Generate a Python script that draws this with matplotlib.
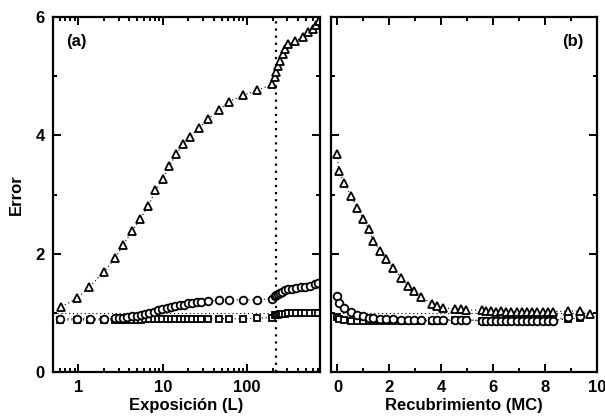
import matplotlib.pyplot as plt
from matplotlib.ticker import MultipleLocator, LogLocator, NullFormatter, FixedLocator

plt.rcParams['font.family'] = ['Liberation Sans', 'DejaVu Sans']
plt.rcParams['font.weight'] = 'bold'

# (a) error vs exposure
exp_tri = [0.63, 0.97, 1.35, 2.0, 2.7, 3.4, 4.35, 5.4, 6.7, 8.2, 10, 12, 14.4, 17.4,
           21, 27, 34, 46, 61, 90, 131, 197, 214, 220, 233, 245, 266, 282, 306, 370,
           460, 527, 604, 660, 710]
err_tri = [1.10, 1.25, 1.44, 1.69, 1.92, 2.15, 2.39, 2.59, 2.80, 3.07, 3.27, 3.49, 3.68, 3.85,
           3.98, 4.12, 4.27, 4.42, 4.57, 4.68, 4.76, 4.86, 4.98, 5.07, 5.17, 5.25, 5.37, 5.46,
           5.54, 5.59, 5.67, 5.75, 5.80, 5.86, 5.94]

exp_cs = [0.6, 0.95, 1.38, 2.0, 2.7, 3.0, 3.4, 3.8, 4.3, 4.9, 5.5, 6.2, 6.9, 7.8, 8.8, 9.9,
          11.1, 12.5, 14.1, 15.8, 17.8, 20, 22.5, 25.3, 28.5, 34, 46, 61, 90, 131, 197,
          214, 222, 232, 245, 260, 280, 305, 340, 380, 430, 490, 560, 640, 700]
err_circ = [0.90, 0.90, 0.90, 0.90, 0.91, 0.91, 0.92, 0.93, 0.94, 0.95, 0.96, 0.98, 1.00, 1.02,
            1.04, 1.06, 1.08, 1.10, 1.11, 1.13, 1.14, 1.16, 1.17, 1.18, 1.19, 1.20, 1.21, 1.22,
            1.22, 1.22, 1.24, 1.28, 1.30, 1.32, 1.34, 1.36, 1.38, 1.40, 1.41, 1.42, 1.43, 1.44,
            1.46, 1.48, 1.50]
err_sq = [0.88, 0.88, 0.88, 0.88, 0.88, 0.88, 0.88, 0.88, 0.88, 0.88, 0.88, 0.89, 0.89, 0.89,
          0.89, 0.89, 0.89, 0.89, 0.89, 0.89, 0.89, 0.90, 0.90, 0.90, 0.90, 0.90, 0.90, 0.90,
          0.90, 0.91, 0.92, 0.96, 0.97, 0.97, 0.98, 0.98, 0.98, 0.99, 0.99, 0.99, 0.99, 1.00,
          1.00, 1.00, 1.00]
exp_mark = 220

# (b) error vs coverage
mc = [0, 0.05, 0.27, 0.53, 0.76, 1.0, 1.2, 1.38, 1.63, 1.88, 2.15, 2.46, 2.73, 2.96, 3.23,
      3.65, 3.85, 4.08, 4.54, 4.75, 4.95, 5.55, 5.72, 5.9, 6.1, 6.3, 6.5, 6.7, 6.9, 7.1,
      7.3, 7.5, 7.7, 7.9, 8.1, 8.3, 8.9, 9.35, 9.72]
cov_tri = [3.68, 3.39, 3.20, 2.97, 2.78, 2.59, 2.42, 2.22, 2.05, 1.91, 1.76, 1.59, 1.46, 1.37,
           1.27, 1.15, 1.12, 1.08, 1.07, 1.06, 1.05, 1.04, 1.03, 1.03, 1.02, 1.03, 1.02, 1.02,
           1.01, 1.02, 1.01, 1.02, 1.01, 1.02, 1.01, 1.02, 1.03, 1.03, 0.98]
mc_cs = mc[:-1]
cov_circ = [1.29, 1.17, 1.08, 1.02, 0.97, 0.94, 0.92, 0.91, 0.90, 0.89, 0.89, 0.88, 0.88, 0.88,
            0.88, 0.88, 0.88, 0.88, 0.88, 0.88, 0.88, 0.87, 0.87, 0.87, 0.86, 0.86, 0.86, 0.86,
            0.86, 0.86, 0.86, 0.86, 0.86, 0.86, 0.87, 0.87, 0.93, 0.95]
cov_sq = [0.93, 0.90, 0.88, 0.87, 0.87, 0.87, 0.87, 0.87, 0.87, 0.87, 0.87, 0.87, 0.87, 0.87,
          0.87, 0.87, 0.87, 0.87, 0.88, 0.88, 0.88, 0.87, 0.87, 0.87, 0.87, 0.87, 0.87, 0.87,
          0.87, 0.87, 0.87, 0.87, 0.87, 0.87, 0.87, 0.87, 0.90, 0.91]

fig = plt.figure(figsize=(6.05, 4.2), dpi=100)
ax1 = fig.add_axes([0.0876, 0.1143, 0.4413, 0.8452])
ax2 = fig.add_axes([0.5471, 0.1143, 0.4397, 0.8452])

mk = dict(color='black', linestyle=(0, (1, 2.5)), linewidth=0.8, mfc='white', mec='black',
          mew=1.3)

for ax in (ax1, ax2):
    ax.axhline(1.0, color='black', linestyle=(0, (1, 2.5)), linewidth=0.8, zorder=1)

ax1.plot(exp_cs, err_sq, marker='s', markersize=5, **mk)
ax1.plot(exp_cs, err_circ, marker='o', markersize=5.5, **mk)
ax1.plot(exp_tri, err_tri, marker='^', markersize=5.7, **mk)
ax1.axvline(exp_mark, color='black', linestyle=(0, (1, 2.2)), linewidth=1.6, zorder=1)

ax2.plot(mc_cs, cov_sq, marker='s', markersize=5, **mk)
ax2.plot(mc_cs, cov_circ, marker='o', markersize=5.5, **mk)
ax2.plot(mc, cov_tri, marker='^', markersize=5.7, **mk)

ax1.set_xscale('log')
ax1.set_xlim(0.5, 730)
ax1.xaxis.set_major_locator(FixedLocator([1, 10, 100]))
ax1.set_xticklabels(['1', '10', '100'])
ax1.xaxis.set_minor_locator(LogLocator(base=10, subs=range(2, 10)))
ax1.xaxis.set_minor_formatter(NullFormatter())

ax2.set_xlim(-0.25, 10)
ax2.xaxis.set_major_locator(MultipleLocator(2))
ax2.xaxis.set_minor_locator(MultipleLocator(1))

for ax in (ax1, ax2):
    ax.set_ylim(0, 6)
    ax.yaxis.set_major_locator(MultipleLocator(2))
    ax.yaxis.set_minor_locator(MultipleLocator(1))
    ax.tick_params(which='both', direction='in', top=True, right=True, width=1.4,
                   labelsize=12, pad=6)
    ax.tick_params(which='major', length=6)
    ax.tick_params(which='minor', length=3)
    for s in ax.spines.values():
        s.set_linewidth(1.6)
    for lab in ax.get_xticklabels() + ax.get_yticklabels():
        lab.set_fontweight('bold')
ax2.set_yticklabels([])

ax1.set_xlabel('Exposición (L)', fontsize=12, fontweight='bold', labelpad=2)
ax2.set_xlabel('Recubrimiento (MC)', fontsize=12, fontweight='bold', labelpad=2)
ax1.set_ylabel('Error', fontsize=12, fontweight='bold', labelpad=8)

ax1.text(0.05, 0.93, '(a)', transform=ax1.transAxes, fontsize=12, fontweight='bold',
         va='center', ha='left')
ax2.text(0.95, 0.93, '(b)', transform=ax2.transAxes, fontsize=12, fontweight='bold',
         va='center', ha='right')

fig.savefig('out.png', dpi=100)
